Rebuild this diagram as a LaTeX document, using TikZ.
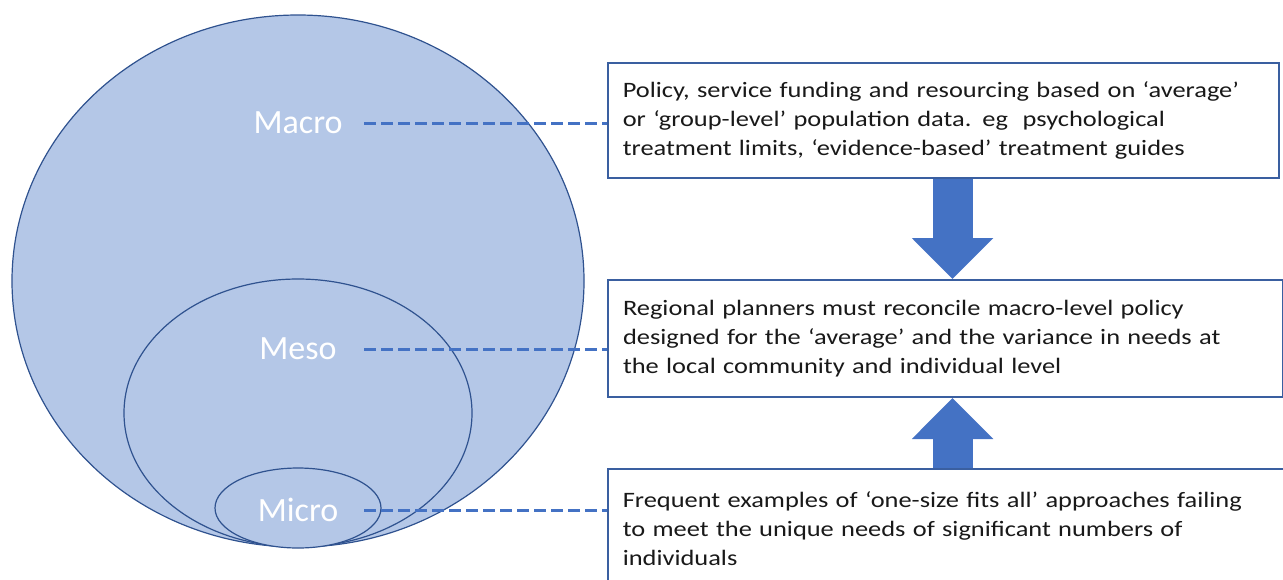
\documentclass[tikz,border=0pt]{standalone}
\usepackage{fontspec}
\setmainfont{Carlito}
\newfontfamily\boxfont{Carlito}[FakeStretch=1.2]
\usetikzlibrary{arrows.meta,positioning,calc,shapes.geometric}

\definecolor{level_fill}{HTML}{B4C7E7}
\definecolor{level_line}{HTML}{2F528F}
\definecolor{accent_blue}{HTML}{4472C4}
\definecolor{box_line}{HTML}{3A5FA0}

\begin{document}
\begin{tikzpicture}[
        x=0.5pt, y=-0.5pt,
        level_area/.style={
            ellipse,
            draw=level_line,
            fill=level_fill,
            line width=0.6pt,
            inner sep=0pt
        },
        level_label/.style={
            text=white,
            font=\fontsize{17}{20}\selectfont,
            minimum width=66pt,
            inner sep=0pt
        },
        info_box/.style={
            rectangle,
            draw=box_line,
            fill=white,
            line width=0.8pt,
            anchor=north west,
            align=left,
            inner xsep=7.5pt,
            text=black!90,
            font=\boxfont\fontsize{11}{14.5}\selectfont
        },
        leader_line/.style={dashed, dash pattern=on 6pt off 2.5pt, line width=1.5pt, accent_blue},
        block_arrow/.style={-{Triangle[width=39.5pt,length=20.5pt]}, line width=20pt, accent_blue}
    ]

    \useasboundingbox (0,0) rectangle (1283,579);

    % =================================================
    % NESTED LEVELS
    % =================================================

    \node[level_area, minimum width=286pt, minimum height=266pt] (macro_area) at (298,281) {};
    \node[level_area, minimum width=174pt, minimum height=134pt] (meso_area) at (298,413) {};
    \node[level_area, minimum width=83pt, minimum height=40pt] (micro_area) at (298,508) {};

    \node[level_label] (macro_label) at (298,123) {Macro};
    \node[level_label] (meso_label) at (298,349) {Meso};
    \node[level_label] (micro_label) at (298,510) {Micro};

    % =================================================
    % DESCRIPTIONS
    % =================================================

    \node[info_box, text width=320.5pt, minimum height=57.5pt] (policy) at (607,62)
        {Policy, service funding and resourcing based on ‘average’\\
         or ‘group-level’ population data. eg\ \ psychological\\
         treatment limits, ‘evidence-based’ treatment guides};
    \node[info_box, text width=322.5pt, minimum height=58.5pt, line width=1pt] (regional) at (607,279)
        {Regional planners must reconcile macro-level policy\\
         designed for the ‘average’ and the variance in needs at\\
         the local community and individual level};
    \node[info_box, text width=325pt, minimum height=60pt] (frequent) at (607,468)
        {Frequent examples of ‘one-size fits all’ approaches failing\\
         to meet the unique needs of significant numbers of\\
         individuals};

    % Leaders
    \draw[leader_line] (macro_label.east) -- (macro_label.east -| policy.west);
    \draw[leader_line] (meso_label.east) -- (meso_label.east -| regional.west);
    \draw[leader_line] (micro_label.east) -- (micro_label.east -| frequent.west);

    % Block arrows
    \coordinate (arrow_axis) at (952.5,0);
    \draw[block_arrow] (policy.south -| arrow_axis) -- (regional.north -| arrow_axis);
    \draw[block_arrow] (frequent.north -| arrow_axis) -- (regional.south -| arrow_axis);

\end{tikzpicture}
\end{document}
